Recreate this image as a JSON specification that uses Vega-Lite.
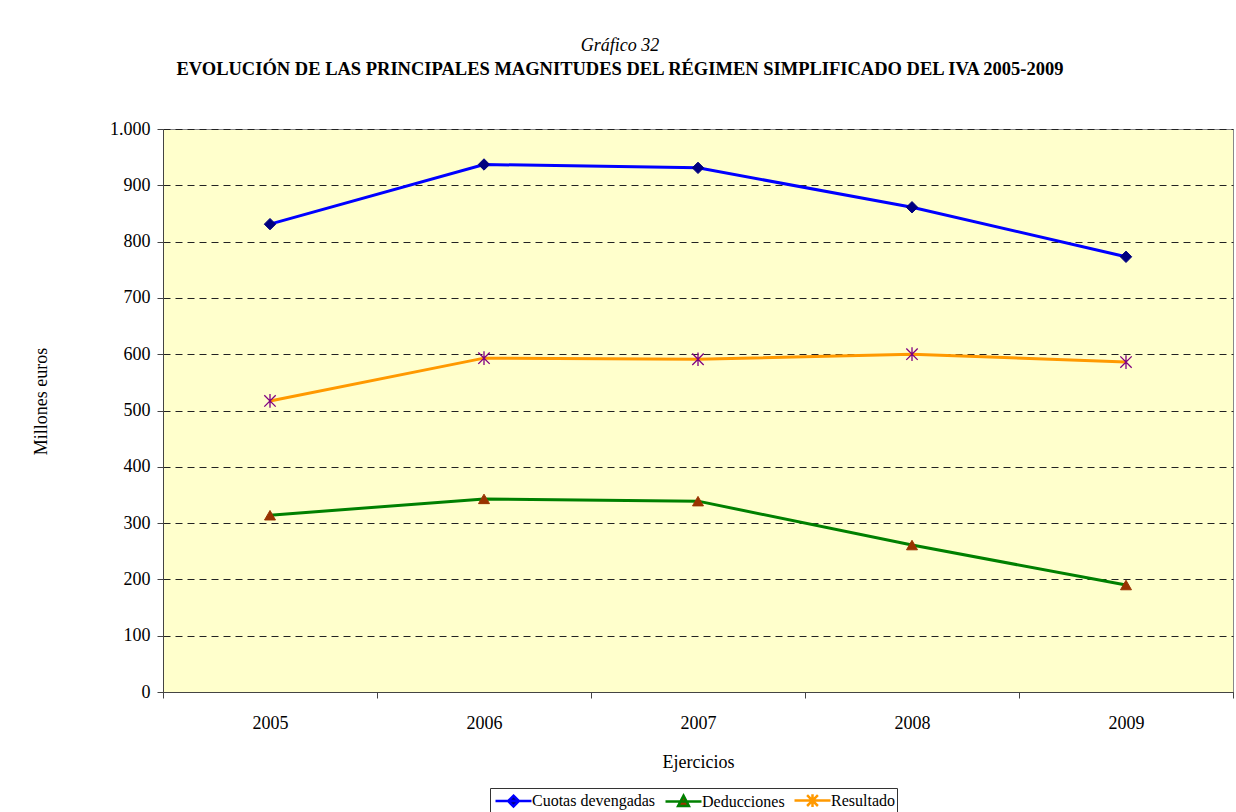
{
  "$schema": "https://vega.github.io/schema/vega-lite/v6.json",
  "width": 1070,
  "height": 563,
  "autosize": {"type": "none"},
  "padding": {"left": 163, "top": 129, "right": 3, "bottom": 120},
  "background": "white",
  "title": {
    "text": "Gráfico 32",
    "subtitle": "EVOLUCIÓN DE LAS PRINCIPALES MAGNITUDES DEL RÉGIMEN SIMPLIFICADO DEL IVA 2005-2009",
    "anchor": "middle",
    "dx": -78,
    "offset": 42,
    "font": "Liberation Serif",
    "fontSize": 18,
    "fontStyle": "italic",
    "fontWeight": "normal",
    "color": "black",
    "subtitleFont": "Liberation Serif",
    "subtitleFontSize": 18.5,
    "subtitleFontWeight": "bold",
    "subtitleColor": "black",
    "subtitlePadding": 5
  },
  "data": {
    "values": [
      {"year": "2005", "serie": "Cuotas devengadas", "value": 831},
      {"year": "2006", "serie": "Cuotas devengadas", "value": 937},
      {"year": "2007", "serie": "Cuotas devengadas", "value": 931},
      {"year": "2008", "serie": "Cuotas devengadas", "value": 861},
      {"year": "2009", "serie": "Cuotas devengadas", "value": 773},
      {"year": "2005", "serie": "Deducciones", "value": 314},
      {"year": "2006", "serie": "Deducciones", "value": 343},
      {"year": "2007", "serie": "Deducciones", "value": 339},
      {"year": "2008", "serie": "Deducciones", "value": 261},
      {"year": "2009", "serie": "Deducciones", "value": 190},
      {"year": "2005", "serie": "Resultado", "value": 517},
      {"year": "2006", "serie": "Resultado", "value": 593},
      {"year": "2007", "serie": "Resultado", "value": 591},
      {"year": "2008", "serie": "Resultado", "value": 600},
      {"year": "2009", "serie": "Resultado", "value": 586}
    ]
  },
  "encoding": {
    "x": {
      "field": "year",
      "type": "ordinal",
      "scale": {"type": "band", "paddingInner": 0, "paddingOuter": 0},
      "axis": {
        "title": "Ejercicios",
        "labelAngle": 0,
        "tickBand": "extent",
        "tickSize": 6,
        "tickColor": "#444",
        "domainColor": "#444",
        "labelPadding": 16,
        "titlePadding": 21,
        "labelFont": "Liberation Serif",
        "labelFontSize": 18,
        "labelColor": "black",
        "titleFont": "Liberation Serif",
        "titleFontSize": 18,
        "titleFontWeight": "normal",
        "titleColor": "black",
        "grid": false
      }
    },
    "y": {
      "field": "value",
      "type": "quantitative",
      "scale": {"domain": [0, 1000], "nice": false, "zero": true},
      "axis": {
        "title": "Millones euros",
        "values": [0, 100, 200, 300, 400, 500, 600, 700, 800, 900, 1000],
        "labelExpr": "replace(format(datum.value, ','), ',', '.')",
        "tickSize": 6,
        "tickColor": "#444",
        "domainColor": "#444",
        "labelPadding": 7,
        "titlePadding": 59,
        "titleY": 272,
        "labelFont": "Liberation Serif",
        "labelFontSize": 18,
        "labelColor": "black",
        "titleFont": "Liberation Serif",
        "titleFontSize": 18,
        "titleFontWeight": "normal",
        "titleColor": "black",
        "grid": true,
        "gridColor": "#222",
        "gridDash": [7, 5],
        "gridWidth": 1
      }
    }
  },
  "layer": [
    {
      "mark": {"type": "line", "strokeWidth": 3},
      "encoding": {
        "stroke": {
          "field": "serie",
          "type": "nominal",
          "scale": {
            "domain": ["Cuotas devengadas", "Deducciones", "Resultado"],
            "range": ["#0000FF", "#008000", "#FF9900"]
          },
          "legend": {
            "title": null,
            "orient": "none",
            "legendX": 327,
            "legendY": 659,
            "direction": "horizontal",
            "strokeColor": "#333",
            "fillColor": "white",
            "padding": 2,
            "columnPadding": 4,
            "labelFont": "Liberation Serif",
            "labelFontSize": 16,
            "labelColor": "black",
            "symbolOffset": 11,
            "labelOffset": 8,
            "symbolSize": 324,
            "symbolStrokeWidth": 2.5,
            "encode": {
              "symbols": {
                "update": {
                  "shape": {"signal": "datum.value === 'Cuotas devengadas' ? 'M-2,0L2,0M0,-0.6L0.6,0L0,0.6L-0.6,0Z' : datum.value === 'Deducciones' ? 'M-2,0L2,0M0,-0.65L0.6,0.5L-0.6,0.5Z' : 'M-2,0L2,0M-0.6,-0.6L0.6,0.6M-0.6,0.6L0.6,-0.6M0,-0.7L0,0.7'"},
                  "fill": {"signal": "datum.value === 'Cuotas devengadas' ? '#000080' : datum.value === 'Deducciones' ? '#993300' : 'transparent'"},
                  "opacity": {"value": 1}
                }
              },
              "labels": {
                "update": {
                  "font": {"value": "Liberation Serif"},
                  "fontSize": {"value": 16}
                }
              }
            }
          }
        }
      }
    },
    {
      "transform": [{"filter": "datum.serie === 'Cuotas devengadas'"}],
      "mark": {"type": "point", "shape": "diamond", "size": 130, "filled": true, "fill": "#000080", "stroke": "#000080", "strokeWidth": 1, "opacity": 1}
    },
    {
      "transform": [{"filter": "datum.serie === 'Deducciones'"}],
      "mark": {"type": "point", "shape": "triangle-up", "size": 120, "filled": true, "fill": "#993300", "stroke": "#993300", "strokeWidth": 1, "opacity": 1}
    },
    {
      "transform": [{"filter": "datum.serie === 'Resultado'"}],
      "mark": {"type": "point", "shape": "M-1,-1L1,1M-1,1L1,-1M0,-1.2L0,1.2", "size": 130, "filled": false, "fill": "transparent", "stroke": "#800080", "strokeWidth": 1.3, "opacity": 1}
    }
  ],
  "config": {
    "font": "Liberation Serif",
    "legend": {"labelFont": "Liberation Serif"},
    "view": {"fill": "#FFFFCC", "stroke": "#888", "strokeWidth": 1}
  }
}
